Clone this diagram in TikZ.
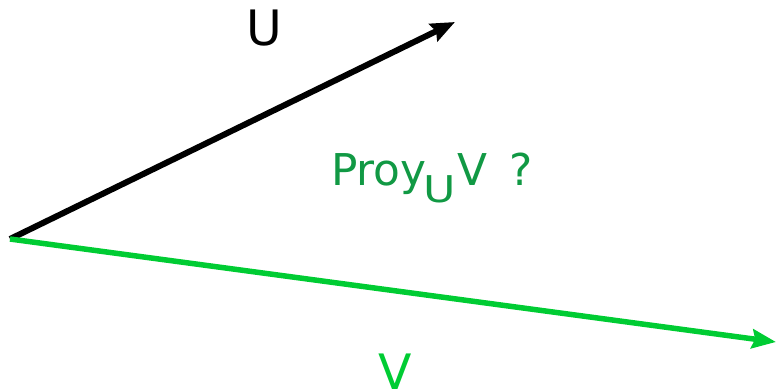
\documentclass[tikz,border=0pt]{standalone}
\usepackage{fontspec}
\setmainfont{DejaVu Sans}
\usetikzlibrary{arrows.meta}
\definecolor{vecgreen}{RGB}{0,204,51}
\definecolor{txtgreen}{RGB}{17,153,68}

\begin{document}
\begin{tikzpicture}[
    x=1bp, y=-1bp,
    vecarr/.style={-{Stealth[length=24bp, width=19bp, inset=3bp]}},
    lbl/.style={inner sep=0pt, font=\fontsize{49}{49}\selectfont}
]
\useasboundingbox (0,0) rectangle (776,391);
\coordinate (o) at (10,239);
\coordinate (u) at (455,22);
\coordinate (v) at (776,342);
\draw[vecarr, line width=6bp, black] (o) -- (u);
\draw[vecarr, line width=5.5bp, vecgreen] (o) -- (v);
\node[lbl, anchor=base] (ulabel) at (264,45) {U};
\node[lbl, anchor=base west, text=txtgreen, font=\fontsize{44}{44}\selectfont] (proy) at (331,185)
    {Proy\hspace{-3bp}\raisebox{-17bp}{\scalebox{1.2}[1]{\fontsize{37}{37}\selectfont U}}\hspace{1bp}V\hspace{9bp} ?};
\node[lbl, anchor=base, text=vecgreen] (vlabel) at (395,389) {V};
\end{tikzpicture}
\end{document}
